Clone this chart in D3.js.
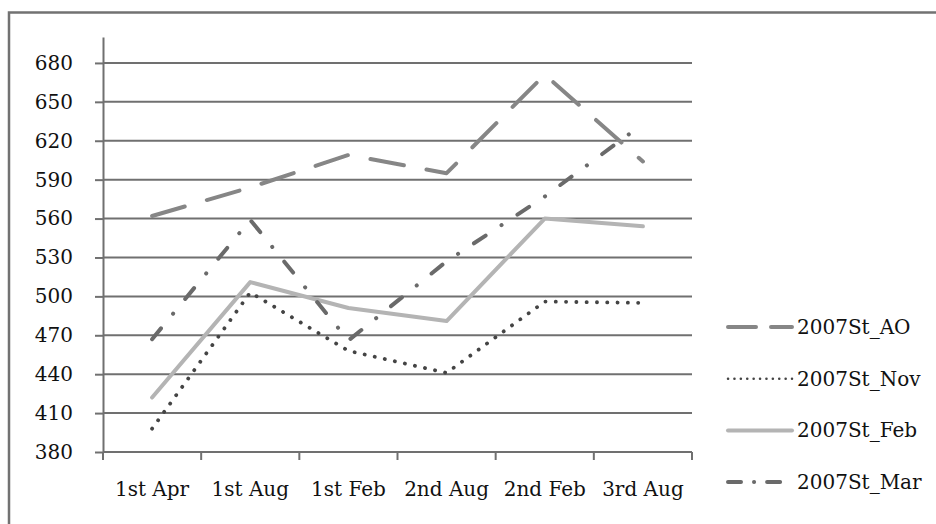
<html lang="en">
<head>
<meta charset="UTF-8">
<script src="https://d3js.org/d3.v7.min.js"></script>
<title>2007St chart</title>
<style>
  body { margin: 0; background: #fff; }
  text { font-family: "DejaVu Serif", serif; fill: #111; }
</style>
<script>
var categories = ["1st Apr", "1st Aug", "1st Feb", "2nd Aug", "2nd Feb", "3rd Aug"];
var yTicks = [380, 410, 440, 470, 500, 530, 560, 590, 620, 650, 680];
var seriesNames = ["2007St_AO", "2007St_Nov", "2007St_Feb", "2007St_Mar"];
var aoValues  = [562, 584, 609, 595, 671, 604];
var novValues = [398, 503, 458, 441, 496, 495];
var febValues = [422, 511, 491, 481, 560, 554];
var marValues = [467, 559, 466, 527, 577, 633];

function main(){
  var svg = d3.select("svg");
  var styles = {
    "2007St_AO":  {color: "#868686", width: 4,   dash: "34,23"},
    "2007St_Nov": {color: "#444444", width: 3.8, dash: "0.1,10.2"},
    "2007St_Feb": {color: "#b4b4b4", width: 4,   dash: null},
    "2007St_Mar": {color: "#6a6a6a", width: 4,   dash: "14,19,0.1,19"}
  };
  var series = [
    {name: seriesNames[0], values: aoValues},
    {name: seriesNames[1], values: novValues},
    {name: seriesNames[2], values: febValues},
    {name: seriesNames[3], values: marValues}
  ];

  // outer frame (cut off at right and bottom)
  svg.append("rect").attr("x", 9).attr("y", 12.5).attr("width", 1000).attr("height", 600)
     .attr("fill", "none").attr("stroke", "#727272").attr("stroke-width", 2.5);

  var left = 103, right = 692, top = 37, bottom = 452;
  var x = d3.scaleBand().domain(categories).range([left, right]);
  var y = d3.scaleLinear().domain([380, 700]).range([bottom, top]);

  var g = svg.append("g");

  // gridlines
  g.selectAll(".grid").data(yTicks).enter().append("line")
    .attr("x1", left).attr("x2", right)
    .attr("y1", function(d){ return y(d); }).attr("y2", function(d){ return y(d); })
    .attr("stroke", "#707070").attr("stroke-width", 2);

  // y axis
  var yAxis = g.append("g").attr("transform", "translate(" + left + ",0)")
    .call(d3.axisLeft(y).tickValues(yTicks).tickSize(8).tickPadding(22).tickSizeOuter(0));
  yAxis.select(".domain").attr("stroke", "#707070").attr("stroke-width", 2);
  yAxis.selectAll(".tick line").attr("stroke", "#707070").attr("stroke-width", 2);
  yAxis.selectAll(".tick text").style("font-size", "20px").attr("fill", "#111")
       .style("font-family", "DejaVu Serif");

  // x axis
  var xAxis = g.append("g").attr("transform", "translate(0," + bottom + ")")
    .call(d3.axisBottom(x).tickSize(0).tickPadding(30));
  xAxis.select(".domain").remove();
  xAxis.selectAll(".tick text").style("font-size", "20px").attr("fill", "#111")
       .style("font-family", "DejaVu Serif");
  var edges = categories.map(function(c){ return x(c); }).concat([right]);
  g.selectAll(".xt").data(edges).enter().append("line")
    .attr("x1", function(d){ return d; }).attr("x2", function(d){ return d; })
    .attr("y1", bottom).attr("y2", bottom + 8)
    .attr("stroke", "#707070").attr("stroke-width", 2);
  g.append("line").attr("x1", left).attr("x2", right).attr("y1", bottom).attr("y2", bottom)
    .attr("stroke", "#707070").attr("stroke-width", 2);

  var line = d3.line()
    .x(function(d, i){ return x(categories[i]) + x.bandwidth() / 2; })
    .y(function(d){ return y(d); });

  g.selectAll(".series").data(series).enter().append("path")
    .attr("d", function(s){ return line(s.values); })
    .attr("fill", "none")
    .attr("stroke", function(s){ return styles[s.name].color; })
    .attr("stroke-width", function(s){ return styles[s.name].width; })
    .attr("stroke-dasharray", function(s){ return styles[s.name].dash; })
    .attr("stroke-linecap", "round")
    .attr("stroke-linejoin", "round");

  // legend
  var leg = svg.append("g").attr("transform", "translate(728,327)");
  var row = leg.selectAll(".lr").data(series).enter().append("g")
    .attr("transform", function(s, i){ return "translate(0," + (i * 51.7) + ")"; });
  row.append("line").attr("x1", 0).attr("x2", 64).attr("y1", 0).attr("y2", 0)
    .attr("stroke", function(s){ return styles[s.name].color; })
    .attr("stroke-width", function(s){ return styles[s.name].width; })
    .attr("stroke-dasharray", function(s){
      if (s.name === "2007St_AO") return "28,15";
      if (s.name === "2007St_Nov") return "0.1,6.3";
      if (s.name === "2007St_Mar") return "13,13,0.1,13";
      return null;
    })
    .attr("stroke-width", function(s){ return s.name === "2007St_Nov" ? 2.5 : 4; })
    .attr("stroke-linecap", "round");
  row.append("text").attr("x", 69).attr("y", 0).attr("dy", "0.35em")
    .style("font-size", "20px").text(function(s){ return s.name; });
}
</script>
</head>
<body onload="main();">
<svg width="936" height="524"></svg>
</body>
</html>
